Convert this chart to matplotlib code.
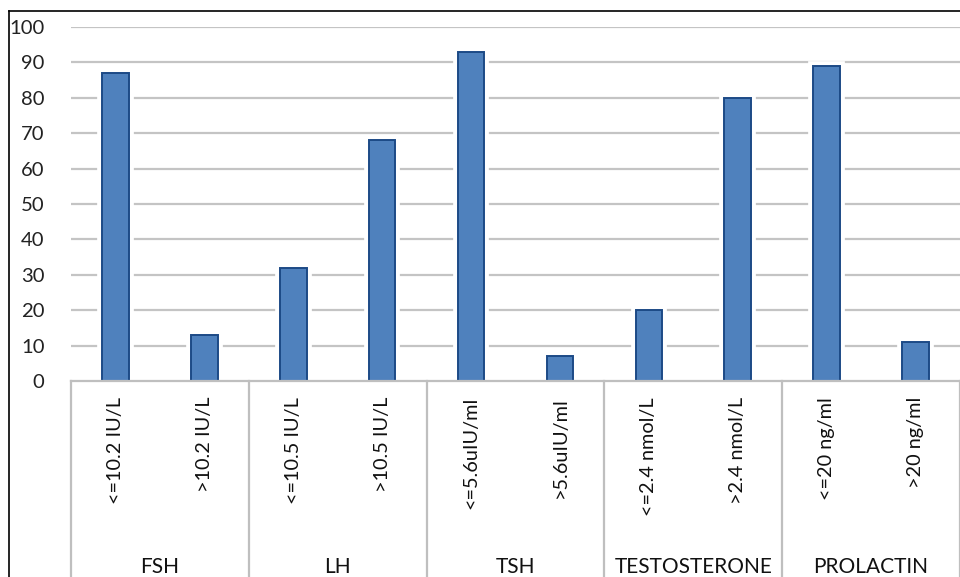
import matplotlib
matplotlib.use("Agg")
import matplotlib.pyplot as plt
import matplotlib.patheffects as pe
from matplotlib.lines import Line2D
import numpy as np

# hormone groups and their sub-categories (percent of patients)
groups = ["FSH", "LH", "TSH", "TESTOSTERONE", "PROLACTIN"]
sub_labels = ["<=10.2 IU/L", ">10.2 IU/L",
              "<=10.5 IU/L", ">10.5 IU/L",
              "<=5.6uIU/ml", ">5.6uIU/ml",
              "<=2.4 nmol/L", ">2.4 nmol/L",
              "<=20 ng/ml", ">20 ng/ml"]
values = [87, 13, 32, 68, 93, 7, 20, 80, 89, 11]

plt.rcParams['font.family'] = ['Lato', 'DejaVu Sans']

W, H = 960, 577
fig = plt.figure(figsize=(W / 100, H / 100), dpi=100)
fig.patch.set_facecolor("white")

x0, x1 = 71, 960
y0, y100 = 381, 27
ax = fig.add_axes([x0 / W, 1 - y0 / H, (x1 - x0) / W, (y0 - y100) / H])

x = np.arange(len(values))
ax.set_xlim(-0.5, len(values) - 0.5)
ax.set_ylim(0, 100)

# horizontal gridlines
for v in range(10, 101, 10):
    ax.axhline(v, color="#c4c4c4", lw=1.6, zorder=1)

bars = ax.bar(x, values, width=0.30, color="#4f81bd", edgecolor="#1c4a86",
              linewidth=1.4, zorder=3)
for b in bars:
    b.set_path_effects([pe.Stroke(linewidth=7, foreground="white"), pe.Normal()])

for s in ax.spines.values():
    s.set_visible(False)
ax.axhline(0, color="#bfbfbf", lw=1.6, zorder=4, clip_on=False)

ax.set_yticks(range(0, 101, 10))
ax.tick_params(axis="y", length=0, pad=19, labelsize=14.6, labelcolor="#222222")
ax.set_xticks([])

# rotated sub-category labels
for xi, lab in zip(x, sub_labels):
    ax.text(xi, -0.045, lab, rotation=90, ha="center", va="top",
            fontsize=14.3, color="#111111", transform=ax.get_xaxis_transform(),
            clip_on=False)

# group labels and separators
depth = -(577 - y0) / (y0 - y100)
for gi, g in enumerate(groups):
    ax.text(gi * 2 + 0.5, -0.525, g, ha="center", va="center", fontsize=15,
            color="#111111", transform=ax.get_xaxis_transform(), clip_on=False)
for gi in range(len(groups) + 1):
    ax.plot([gi * 2 - 0.5] * 2, [0, depth], color="#bfbfbf", lw=1.6,
            transform=ax.get_xaxis_transform(), clip_on=False, zorder=4)

# outer frame (left and top edges)
fig.add_artist(Line2D([9 / W, 9 / W], [0, 1 - 11 / H], color="black", lw=1.2,
                      transform=fig.transFigure))
fig.add_artist(Line2D([9 / W, 1], [1 - 11 / H, 1 - 11 / H], color="black", lw=1.2,
                      transform=fig.transFigure))

fig.savefig("out.png", dpi=100)
